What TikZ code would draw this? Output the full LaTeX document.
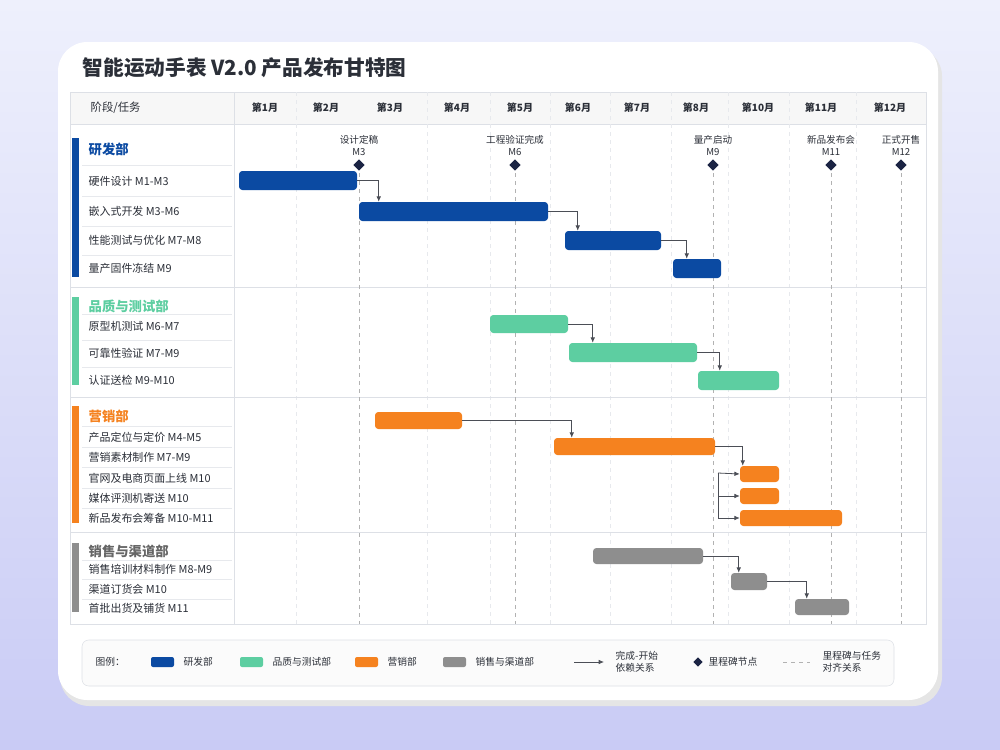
\documentclass[tikz,border=0pt]{standalone}
\usepackage{fontspec}
\setmainfont{Noto Sans CJK SC}
\usetikzlibrary{shapes.geometric,arrows.meta}
\definecolor{rdblue}{HTML}{0B4AA2}
\definecolor{qagreen}{HTML}{5DCEA1}
\definecolor{mkorange}{HTML}{F5821F}
\definecolor{slgray}{HTML}{8E8E8E}
\definecolor{gridline}{HTML}{DDE0E6}
\definecolor{milestone}{HTML}{1B2444}
\definecolor{txt}{HTML}{2B2F38}
\definecolor{bgA}{HTML}{EEF0FC}
\definecolor{bgB}{HTML}{C9CBF5}
\tikzset{
  bar/.style={rectangle,rounded corners=2.5pt,inner sep=0pt,draw=none},
  dep/.style={draw=txt!85,line width=0.6pt,-{Latex[length=4pt,width=3.5pt]}},
  task/.style={anchor=west,font=\fontsize{8.2}{9}\selectfont,text=txt},
  dept/.style={anchor=west,font=\fontsize{10}{11}\selectfont\bfseries},
  month/.style={font=\fontsize{7.5}{9}\selectfont\bfseries,text=txt},
  mstone/.style={diamond,fill=milestone,inner sep=0pt,minimum size=8.5pt},
  mlabel/.style={font=\fontsize{7.2}{9}\selectfont,text=txt,align=center},
  mline/.style={draw=gray!60,dashed,line width=0.4pt},
  rowline/.style={draw=gridline!70,line width=0.4pt},
  legend/.style={anchor=west,font=\fontsize{7.3}{9}\selectfont,text=txt,align=left}
}
\newcommand\taskbar[6]{\node[bar,fill=#6,minimum width={(#4-#2)*0.75pt},minimum height={(#5-#3)*0.75pt}] (#1) at ({(#2+#4)/2},{(#3+#5)/2}) {};}
\begin{document}
\begin{tikzpicture}[x=0.75pt,y=-0.75pt]
% background and card
\shade[left color=bgA,right color=bgB,shading angle=0] (0,0) rectangle (1000,750);
\fill[black!10,rounded corners=22pt] (60,47) rectangle (942,706);
\fill[white,rounded corners=22pt] (58,42) rectangle (938,700);
\node[anchor=west,font=\fontsize{15.5}{17}\selectfont\bfseries,text=txt] (title) at (78,68) {智能运动手表 V2.0 产品发布甘特图};

% table frame and header
\fill[black!3] (70,92) rectangle (926,124);
\draw[gridline] (70,92) rectangle (926,624);
\draw[gridline] (70,124) -- (926,124);
\draw[gridline] (234,92) -- (234,624);
\node[anchor=west,font=\fontsize{8.5}{10}\selectfont,text=txt] (hdr) at (86,108) {阶段/任务};
\foreach \x in {296,427,490,550,610,671,728,789,856}
  \draw[gridline!70,dashed,line width=0.3pt] (\x,92) -- (\x,624);
\foreach \x/\m in {265/1,326/2,390/3,457/4,520/5,578/6,637/7,696/8,758/10,821/11,890/12}
  \node[month] (m\m) at (\x,108) {第\m 月};

% section dividers
\foreach \y in {287,397,532} \draw[gridline] (70,\y) -- (926,\y);

% milestones
\foreach \x/\n/\t/\m in {359/ms3/设计定稿/M3,515/ms6/工程验证完成/M6,713/ms9/量产启动/M9,831/ms11/新品发布会/M11,901/ms12/正式开售/M12}{
  \draw[mline] (\x,165) -- (\x,624);
  \node[mstone] (\n) at (\x,165) {};
  \node[mlabel] at (\x,145.5) {\t\\\m};
}

% department accents
\fill[rdblue] (72,138) rectangle (79,277);
\fill[qagreen] (72,297) rectangle (79,385);
\fill[mkorange] (72,406) rectangle (79,523);
\fill[slgray] (72,543) rectangle (79,612);
\foreach \y in {165,196,226,255,314,340,367,426,447,467,488,508,560,579,599}
  \draw[rowline] (82,\y) -- (232,\y);

% labels
\node[dept,text=rdblue] (rd) at (84,149) {研发部};
\node[task] at (84,181) {硬件设计 M1-M3};
\node[task] at (84,211) {嵌入式开发 M3-M6};
\node[task] at (84,240) {性能测试与优化 M7-M8};
\node[task] at (84,268) {量产固件冻结 M9};
\node[dept,text=qagreen] (qa) at (84,306) {品质与测试部};
\node[task] at (84,326) {原型机测试 M6-M7};
\node[task] at (84,353) {可靠性验证 M7-M9};
\node[task] at (84,380) {认证送检 M9-M10};
\node[dept,text=mkorange] (mk) at (84,416) {营销部};
\node[task] at (84,437) {产品定位与定价 M4-M5};
\node[task] at (84,457) {营销素材制作 M7-M9};
\node[task] at (84,478) {官网及电商页面上线 M10};
\node[task] at (84,498) {媒体评测机寄送 M10};
\node[task] at (84,518) {新品发布会筹备 M10-M11};
\node[dept,text=black!60] (sl) at (84,551) {销售与渠道部};
\node[task] at (84,569) {销售培训材料制作 M8-M9};
\node[task] at (84,589) {渠道订货会 M10};
\node[task] at (84,608) {首批出货及铺货 M11};

% bars
\taskbar{hw}{239}{171}{357}{190}{rdblue}
\taskbar{emb}{359}{202}{548}{221}{rdblue}
\taskbar{perf}{565}{231}{661}{250}{rdblue}
\taskbar{fw}{673}{259}{721}{278}{rdblue}
\taskbar{proto}{490}{315}{568}{333}{qagreen}
\taskbar{rel}{569}{343}{697}{362}{qagreen}
\taskbar{cert}{698}{371}{779}{390}{qagreen}
\taskbar{pos}{375}{412}{462}{429}{mkorange}
\taskbar{mat}{554}{438}{715}{455}{mkorange}
\taskbar{web}{740}{466}{779}{482}{mkorange}
\taskbar{media}{740}{488}{779}{504}{mkorange}
\taskbar{launch}{740}{510}{842}{526}{mkorange}
\taskbar{train}{593}{548}{703}{564}{slgray}
\taskbar{order}{731}{573}{767}{590}{slgray}
\taskbar{ship}{795}{599}{849}{615}{slgray}

% dependencies
\draw[dep] (hw.east) -| ([xshift=15pt]emb.north west);
\draw[dep] (emb.east) -| ([xshift=9.75pt]perf.north west);
\draw[dep] (perf.east) -| ([xshift=10.5pt]fw.north west);
\draw[dep] (proto.east) -| ([xshift=18pt]rel.north west);
\draw[dep] (rel.east) -| ([xshift=16.5pt]cert.north west);
\draw[dep] (pos.east) -| ([xshift=13.5pt]mat.north west);
\draw[dep] (mat.east) -| ([xshift=2.25pt]web.north west);
\coordinate (fan) at (718,473);
\draw[draw=txt!85,line width=0.6pt] (fan) -- (718,518);
\draw[dep] (fan) -- (web.west);
\draw[dep] (718,496) -- (media.west);
\draw[dep] (718,518) -- (launch.west);
\draw[dep] (train.east) -| ([xshift=6pt]order.north west);
\draw[dep] (order.east) -| ([xshift=9pt]ship.north west);

% legend
\draw[gridline,fill=black!1.5,rounded corners=5pt] (82,640) rectangle (894,686);
\node[legend] at (91,662) {图例：};
\foreach \c/\x/\t in {rdblue/151/研发部,qagreen/240/品质与测试部,mkorange/355/营销部,slgray/443/销售与渠道部}{
  \fill[\c,rounded corners=1.5pt] (\x,657) rectangle (\x+23,667);
  \node[legend] at (\x+28,662) {\t};
}
\coordinate (lga) at (574,662);
\draw[dep] (lga) -- (604,662);
\node[legend] at (611,662) {完成-开始\\依赖关系};
\node[mstone,minimum size=7pt] (lgm) at (698,662) {};
\node[legend] at (704,662) {里程碑节点};
\draw[mline] (783,662) -- (810,662);
\node[legend] at (818,662) {里程碑与任务\\对齐关系};
\end{tikzpicture}
\end{document}
